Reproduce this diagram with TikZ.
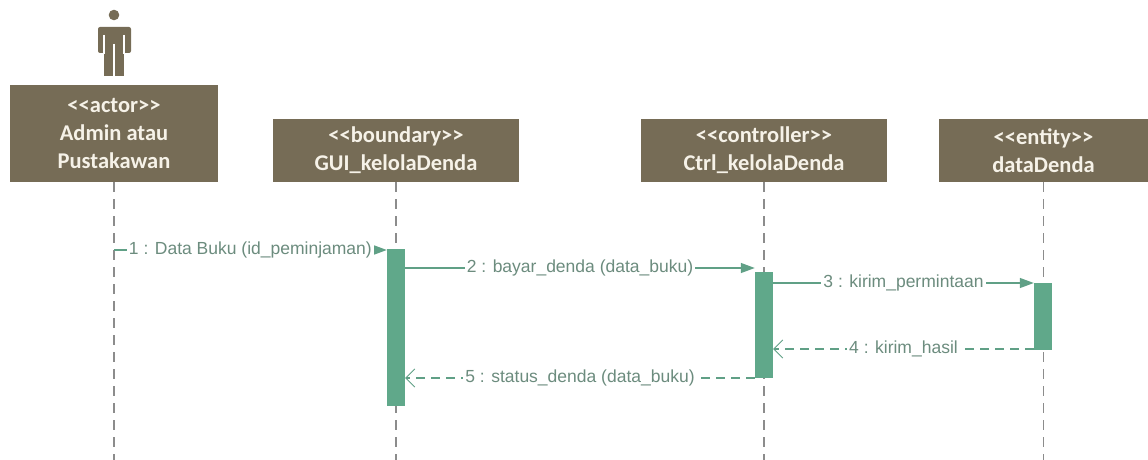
\documentclass[tikz,border=0pt]{standalone}
\usepackage{fontspec}
\setmainfont{Liberation Sans}
\newfontfamily\headfont{Carlito}
\usetikzlibrary{arrows.meta,positioning}
\definecolor{sqbrown}{RGB}{118,108,86}
\definecolor{sqcream}{RGB}{246,242,232}
\definecolor{sqgreen}{RGB}{96,168,138}
\definecolor{sqline}{RGB}{96,160,134}
\definecolor{sqtext}{RGB}{108,140,126}
\definecolor{sqgray}{RGB}{140,140,140}

\begin{document}
\begin{tikzpicture}[x=1pt, y=-1pt,
  head/.style={fill=sqbrown, text=sqcream, font=\headfont\bfseries\fontsize{22.5}{28}\selectfont, align=center, inner sep=0pt, minimum height=63pt},
  life/.style={sqgray, line width=1.2pt, dash pattern=on 10pt off 7pt},
  act/.style={fill=sqgreen, minimum width=18pt, inner sep=0pt},
  call/.style={sqline, line width=1.3pt, -{Triangle[length=14pt,width=10pt]}},
  ret/.style={sqline, line width=1.3pt, dash pattern=on 9pt off 6pt, -{Straight Barb[length=9pt,width=18pt,line width=0.8pt]}},
  lbl/.style={fill=white, text=sqtext, font=\fontsize{17.5}{20}\selectfont, inner sep=2pt}]
  \useasboundingbox (0,0) rectangle (1148,460);

  % actor figure
  \fill[sqbrown, rounded corners=2pt] (98,27) rectangle (131,53);
  \fill[sqbrown] (104,50) rectangle (124,76);
  \fill[sqbrown] (114,15) circle (5.3);
  \draw[white, line width=1.2pt] (104,35) -- (104,54) (124,35) -- (124,54) (114,44) -- (114,77);

  % heads
  \node[head, minimum width=208pt, minimum height=97pt] (admin) at (114,133.5) {<{}<actor>{}>\\Admin atau\\Pustakawan};
  \node[head, minimum width=246pt] (gui) at (396,150.5) {<{}<boundary>{}>\\GUI\_kelolaDenda};
  \node[head, minimum width=246pt] (ctrl) at (764,150.5) {<{}<controller>{}>\\Ctrl\_kelolaDenda};
  \node[head, minimum width=209pt] (ent) at (1043.5,150.5) {<{}<entity>{}>\\dataDenda};

  % lifelines
  \foreach \n in {admin,gui,ctrl,ent}
    \draw[life] (\n.south) -- (\n.south |- 0,460);

  % activations
  \node[act, minimum height=157pt] (guibar) at (396,327.5) {};
  \node[act, minimum height=106pt] (ctrlbar) at (764,325) {};
  \node[act, minimum height=67pt] (entbar) at (1043,316.5) {};

  % messages
  \draw[call] (admin.south |- 0,250) -- node[lbl] {1 : Data Buku (id\_peminjaman)} (guibar.west |- 0,250);
  \draw[call] (guibar.east |- 0,268) -- node[lbl] {2 : bayar\_denda (data\_buku)} (ctrlbar.west |- 0,268);
  \draw[call] (ctrlbar.east |- 0,283) -- node[lbl] {3 : kirim\_permintaan} (entbar.west |- 0,283);
  \draw[ret] (entbar.west |- 0,349) -- node[lbl] {4 : kirim\_hasil} (ctrlbar.east |- 0,349);
  \draw[ret] (ctrlbar.west |- 0,378) -- node[lbl] {5 : status\_denda (data\_buku)} (guibar.east |- 0,378);
\end{tikzpicture}
\end{document}
